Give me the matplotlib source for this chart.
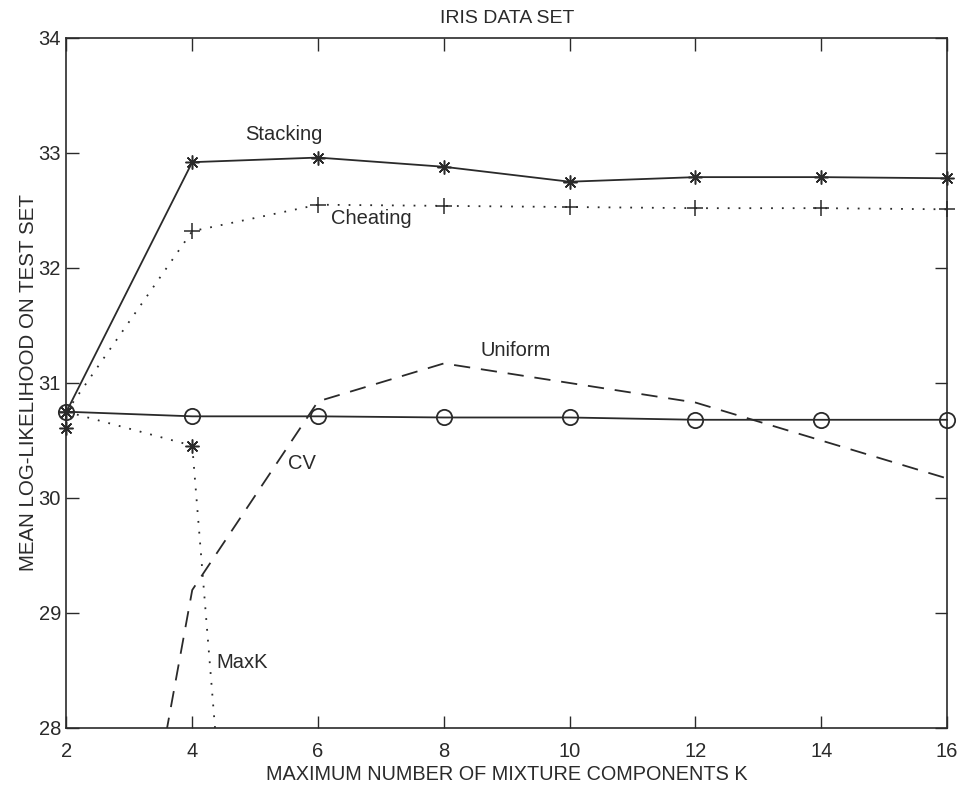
import matplotlib.pyplot as plt

plt.rcParams['font.family'] = ['Liberation Sans', 'DejaVu Sans']

k = [2, 4, 6, 8, 10, 12, 14, 16]
stacking = [30.75, 32.92, 32.96, 32.88, 32.75, 32.79, 32.79, 32.78]
cheating = [30.75, 32.32, 32.55, 32.54, 32.53, 32.52, 32.52, 32.51]
cv_circ = [30.75, 30.71, 30.71, 30.70, 30.70, 30.68, 30.68, 30.68]
uniform = [23.2, 29.2, 30.84, 31.17, 31.0, 30.83, 30.5, 30.17]
maxk_k = [2, 4, 6]
maxk = [30.75, 30.455, 16.9]
extra_k = [2]
extra = [30.61]

ink = '#2a2a2a'
ast = (8, 2, 0)

fig = plt.figure(figsize=(9.63, 7.86), dpi=100)
ax = fig.add_axes([0.069, 0.0738, 0.9144, 0.8779])

# lines that stay inside the limits are not clipped, so edge markers show whole
ax.plot(k, stacking, '-', color=ink, lw=1.3, marker=ast, ms=10, mew=1.1, clip_on=False)
ax.plot(k, cheating, ':', color=ink, lw=1.3, marker='+', ms=12, mew=1.1,
        dashes=(1, 5), clip_on=False)
ax.plot(k, cv_circ, '-', color=ink, lw=1.3, marker='o', ms=11, mfc='none', mew=1.3,
        clip_on=False)
ax.plot(k, uniform, '--', color=ink, lw=1.3, dashes=(9, 6))
ax.plot(maxk_k, maxk, ':', color=ink, lw=1.3, dashes=(1, 5))
ax.plot(maxk_k[1:2], maxk[1:2], ls='none', color=ink, marker=ast, ms=10, mew=1.1)
ax.plot(extra_k, extra, ls='none', color=ink, marker=ast, ms=10, mew=1.1, clip_on=False)

fs = 14.5
ax.text(5.46, 33.16, 'Stacking', fontsize=fs, ha='center', va='center', color=ink)
ax.text(6.2, 32.43, 'Cheating', fontsize=fs, ha='left', va='center', color=ink)
ax.text(8.59, 31.28, 'Uniform', fontsize=fs, ha='left', va='center', color=ink)
ax.text(5.52, 30.3, 'CV', fontsize=fs, ha='left', va='center', color=ink)
ax.text(4.38, 28.57, 'MaxK', fontsize=fs, ha='left', va='center', color=ink)

ax.set_xlim(2, 16)
ax.set_ylim(28, 34)
ax.set_xticks(k)
ax.set_yticks([28, 29, 30, 31, 32, 33, 34])
ax.tick_params(direction='in', length=9, width=1, top=True, right=True,
               labelsize=14.5, colors=ink)
ax.tick_params(axis='x', pad=10)
ax.tick_params(axis='y', pad=4)
for s in ax.spines.values():
    s.set_linewidth(1.2)
    s.set_color(ink)

ax.set_title('IRIS DATA SET', fontsize=14, color=ink, pad=11)
ax.set_xlabel('MAXIMUM NUMBER OF MIXTURE COMPONENTS K', fontsize=14.3, color=ink, labelpad=3)
ax.set_ylabel('MEAN LOG-LIKELIHOOD ON TEST SET', fontsize=14.8, color=ink, labelpad=0)

plt.savefig('out.png', dpi=100)
